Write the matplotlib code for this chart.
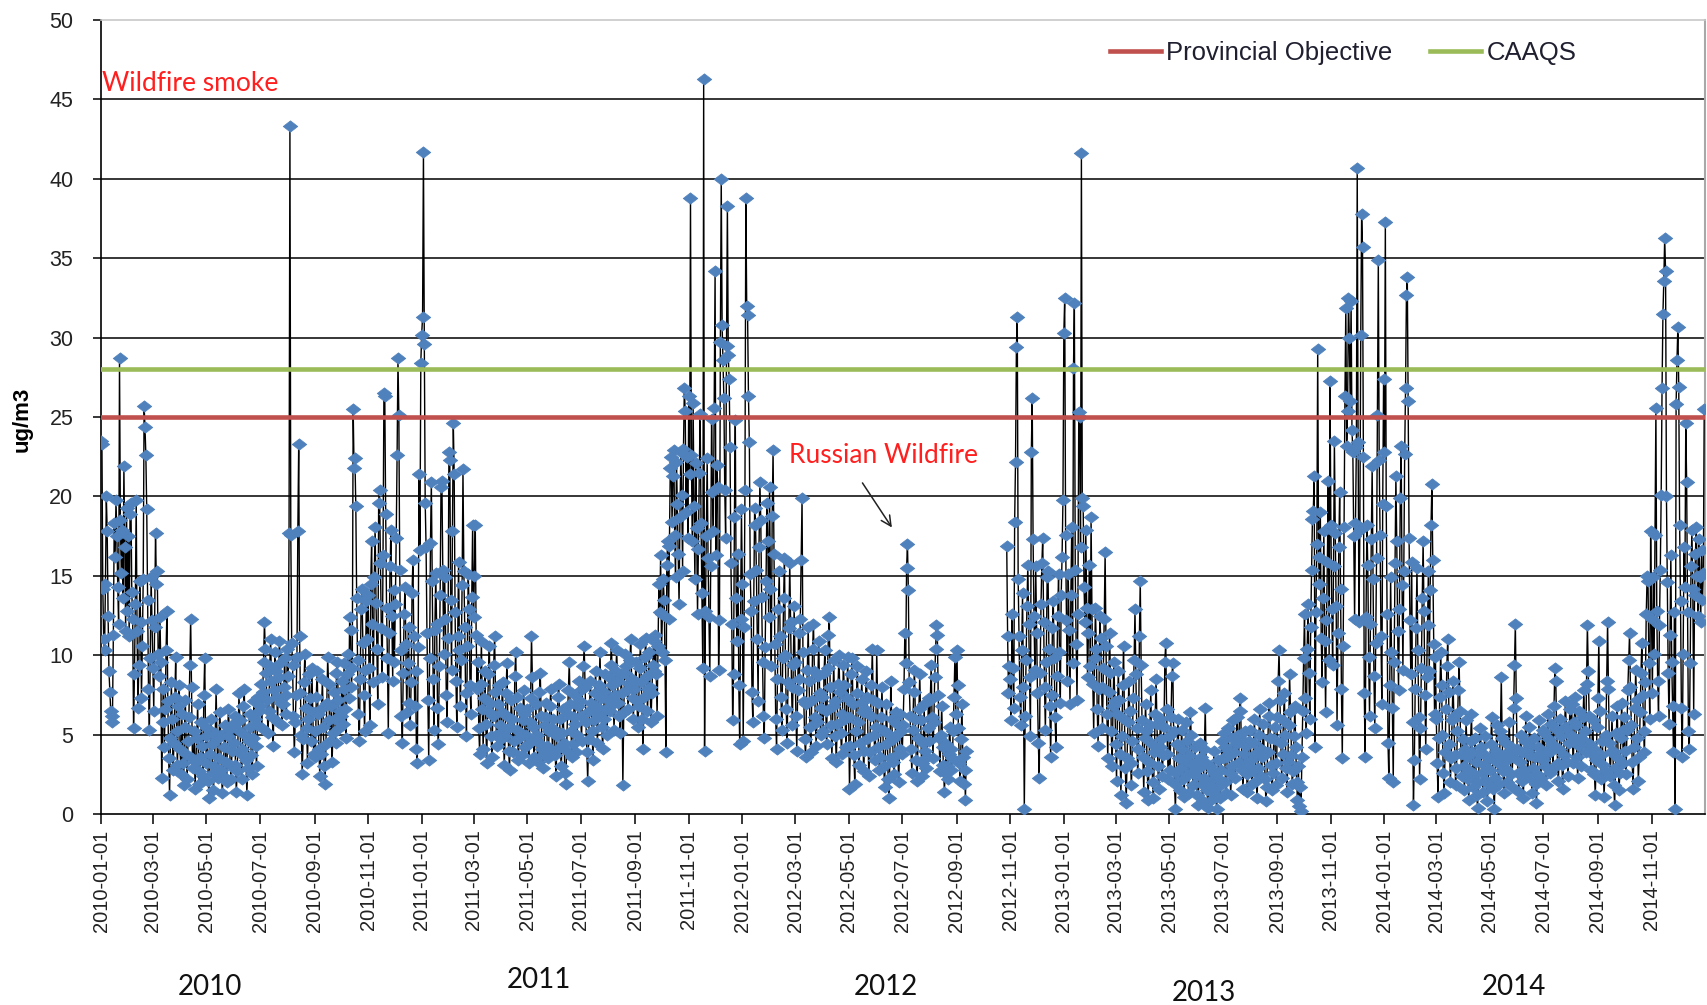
import numpy as np
import pandas as pd
import matplotlib
matplotlib.use("Agg")
import matplotlib.pyplot as plt
import matplotlib.dates as mdates
from matplotlib.path import Path

# ---------------- data (daily PM2.5, ug/m3), one list per month ----------------
pm_2010 = [
    [23.5, 23.3, 14.2, 11.0, 10.3, 14.5, 20.0, 17.8, 12.5, 9.0, 7.7, 6.5, 5.8, 6.2, 11.3, 18.3, 16.2, 19.8, 17.5, 14.3, 12.0, 28.7, 18.5, 15.2, 17.9, 13.6, 21.9, 16.8, 11.5, 19.3, 12.8],
    [17.5, 11.2, 18.9, 19.6, 14.0, 12.3, 5.4, 8.8, 13.2, 19.8, 11.5, 6.7, 9.4, 14.7, 12.1, 7.3, 10.6, 14.8, 25.7, 24.4, 22.6, 19.2, 13.5, 7.9, 5.3, 9.8, 14.9, 12.2],
    [9.2, 6.5, 11.8, 17.7, 14.5, 15.3, 10.1, 8.7, 12.4, 9.6, 2.3, 5.8, 7.9, 4.2, 6.6, 10.3, 12.8, 7.1, 3.5, 1.2, 4.8, 8.3, 6.0, 2.8, 4.5, 7.4, 9.9, 5.2, 3.1, 6.8, 8.1],
    [4.1, 2.5, 6.3, 3.2, 1.8, 5.5, 7.2, 3.8, 2.2, 4.6, 6.1, 9.4, 12.3, 8.0, 3.5, 2.9, 5.2, 1.6, 3.3, 4.8, 6.9, 2.7, 1.9, 3.6, 5.8, 4.3, 2.4, 7.5, 9.8, 4.9],
    [3.2, 5.4, 2.1, 1.0, 3.8, 6.0, 4.4, 2.6, 1.5, 3.0, 5.1, 7.9, 4.7, 2.3, 3.5, 6.4, 5.0, 2.8, 1.3, 2.4, 4.2, 5.6, 3.3, 2.0, 4.9, 6.6, 5.3, 3.1, 2.2, 4.0, 5.7],
    [4.5, 6.2, 3.1, 1.4, 2.7, 5.3, 7.6, 5.9, 3.8, 2.2, 4.1, 6.8, 7.9, 5.0, 3.4, 1.2, 2.9, 4.6, 6.3, 5.5, 3.7, 2.5, 4.8, 7.1, 6.0, 4.3, 3.0, 5.6, 7.4, 6.5],
    [6.8, 8.2, 5.4, 7.7, 9.6, 12.1, 10.4, 8.9, 7.2, 5.1, 6.5, 9.3, 11.0, 8.4, 6.1, 4.3, 7.8, 10.2, 9.0, 7.4, 5.8, 8.6, 10.9, 9.5, 7.0, 5.6, 6.9, 8.0, 9.8, 7.5, 6.3],
    [10.4, 8.7, 17.7, 43.3, 17.6, 10.8, 9.4, 6.2, 3.9, 5.8, 7.5, 9.9, 17.8, 23.3, 11.2, 7.6, 5.0, 2.5, 4.7, 8.3, 10.1, 6.7, 5.4, 3.2, 6.0, 8.8, 7.3, 4.6, 9.2, 6.4, 3.8],
    [5.2, 3.6, 7.4, 9.0, 6.3, 4.1, 2.4, 3.8, 6.7, 8.5, 5.5, 3.0, 1.9, 4.4, 7.0, 9.9, 8.2, 5.9, 4.6, 6.8, 3.3, 5.1, 7.7, 6.0, 4.5, 8.9, 9.6, 7.2, 5.4, 6.5],
    [6.2, 8.4, 5.7, 7.9, 9.5, 6.6, 4.8, 8.8, 10.1, 7.3, 12.4, 11.6, 8.0, 9.2, 25.5, 21.8, 22.4, 19.4, 13.6, 9.7, 6.3, 4.6, 8.5, 12.9, 14.2, 10.8, 7.5, 5.2, 9.1, 13.4, 11.0],
    [13.8, 9.2, 5.6, 14.5, 17.2, 12.0, 8.3, 14.9, 18.1, 13.3, 10.4, 6.9, 19.6, 20.4, 15.8, 11.7, 8.6, 16.3, 26.5, 26.3, 18.9, 13.0, 9.8, 5.1, 11.4, 15.6, 17.9, 12.5, 8.4, 14.1],
    [9.6, 13.2, 17.4, 22.6, 28.7, 25.1, 15.4, 10.3, 6.2, 4.5, 8.9, 12.6, 14.3, 10.7, 6.4, 9.5, 11.8, 7.0, 5.6, 8.3, 13.9, 16.0, 11.2, 6.8, 9.0, 4.1, 3.2, 10.5, 21.4, 16.6, 28.4],
]
pm_2011 = [
    [30.2, 31.3, 41.7, 29.6, 19.6, 16.8, 11.4, 7.2, 3.4, 9.8, 17.1, 20.9, 14.7, 8.5, 5.3, 11.6, 15.2, 12.0, 6.7, 4.4, 9.3, 13.8, 20.6, 21.0, 15.4, 10.1, 14.9, 12.3, 7.5, 5.8, 11.1],
    [22.8, 22.3, 13.5, 9.1, 17.8, 24.6, 21.4, 12.7, 8.4, 5.5, 11.2, 15.9, 10.3, 6.8, 9.7, 14.4, 21.7, 15.3, 11.8, 7.6, 4.9, 10.6, 15.1, 12.9, 8.1, 6.3, 13.7, 18.2],
    [12.4, 15.0, 18.2, 11.3, 7.9, 9.6, 5.4, 3.8, 8.2, 10.9, 6.6, 4.1, 7.3, 9.0, 5.7, 3.2, 6.5, 8.8, 10.6, 7.0, 4.9, 3.6, 6.2, 9.4, 11.2, 7.7, 5.0, 4.3, 6.9, 8.1, 5.6],
    [4.7, 6.4, 8.3, 5.2, 3.1, 4.9, 7.6, 9.5, 6.1, 4.0, 2.8, 5.5, 7.2, 6.0, 3.9, 4.6, 8.7, 10.2, 7.4, 5.3, 3.4, 4.8, 6.7, 5.1, 3.7, 5.9, 7.8, 6.3, 4.2, 5.0],
    [6.6, 4.4, 3.2, 5.8, 7.3, 11.2, 8.6, 5.5, 3.6, 4.7, 6.9, 5.0, 3.3, 4.5, 7.7, 8.9, 6.2, 4.1, 2.9, 3.8, 5.6, 7.0, 6.1, 4.3, 3.5, 5.2, 6.8, 7.9, 5.4, 4.0, 6.0],
    [5.3, 3.7, 2.4, 4.9, 7.4, 8.2, 6.0, 4.2, 3.0, 5.1, 6.6, 4.5, 2.6, 1.9, 4.0, 6.3, 7.8, 9.6, 6.9, 5.2, 3.6, 4.4, 6.1, 7.5, 5.7, 3.9, 5.0, 6.8, 8.4, 7.1],
    [6.2, 4.6, 7.9, 9.3, 10.6, 8.0, 5.8, 3.9, 2.1, 4.7, 6.5, 8.4, 7.0, 5.2, 3.4, 5.9, 7.6, 9.0, 6.8, 4.5, 6.3, 8.1, 10.2, 7.3, 5.5, 4.1, 6.0, 7.7, 8.8, 6.6, 5.0],
    [7.2, 8.6, 6.5, 9.4, 10.8, 8.1, 6.9, 5.3, 7.5, 9.0, 10.3, 8.4, 7.0, 6.2, 5.1, 8.8, 7.6, 1.8, 6.4, 8.9, 10.1, 9.3, 7.8, 6.6, 8.2, 9.7, 11.0, 8.5, 7.3, 6.0, 7.9],
    [8.4, 9.6, 7.1, 5.5, 6.8, 9.2, 10.7, 8.3, 6.0, 4.1, 7.4, 9.9, 11.1, 8.7, 6.5, 7.9, 10.2, 8.0, 5.8, 7.6, 9.4, 10.9, 9.0, 11.3, 8.8, 6.2, 10.6, 14.5, 12.7, 16.3],
    [10.2, 12.6, 14.8, 13.5, 9.7, 3.9, 15.7, 17.2, 12.3, 16.9, 21.8, 22.5, 18.4, 21.3, 22.9, 17.6, 14.9, 22.2, 19.5, 16.4, 13.2, 18.7, 22.8, 20.1, 15.3, 23.0, 26.8, 25.4, 19.0, 22.5, 17.4],
    [26.3, 21.4, 38.8, 22.6, 17.2, 25.9, 19.4, 14.8, 22.1, 18.0, 12.6, 16.7, 21.5, 25.2, 18.3, 13.9, 9.2, 46.3, 4.0, 12.8, 17.5, 22.4, 16.1, 12.4, 8.7, 15.6, 24.9, 20.3, 17.8, 25.6],
    [34.2, 16.3, 22.0, 20.6, 9.1, 12.2, 29.7, 40.0, 30.8, 28.6, 26.2, 20.4, 17.4, 29.5, 38.3, 28.9, 27.4, 23.1, 15.8, 12.0, 5.9, 8.8, 18.7, 24.8, 13.6, 10.9, 16.4, 8.1, 4.4, 12.3, 19.2],
]
pm_2012 = [
    [14.5, 4.6, 11.8, 20.4, 38.8, 32.0, 31.4, 26.3, 23.4, 15.1, 12.8, 7.7, 5.8, 13.4, 19.3, 18.2, 15.4, 11.0, 7.1, 16.8, 20.9, 18.5, 13.7, 9.6, 6.2, 4.8, 10.5, 14.7, 19.6, 17.2, 12.4],
    [20.6, 14.2, 9.3, 18.8, 22.9, 16.4, 10.7, 6.0, 4.1, 8.5, 12.9, 15.3, 11.2, 7.4, 5.3, 9.8, 13.6, 16.1, 10.0, 6.6, 4.5, 8.3, 11.7, 15.8, 12.1, 8.0, 5.6, 9.4, 13.1],
    [9.6, 6.2, 4.0, 7.8, 11.4, 8.5, 12.3, 16.0, 19.9, 10.2, 7.1, 4.7, 3.6, 6.9, 9.1, 11.8, 8.4, 5.5, 3.9, 7.2, 10.4, 12.0, 9.0, 6.1, 4.3, 5.8, 8.7, 10.9, 7.6, 5.0, 6.7],
    [7.4, 5.2, 8.9, 10.3, 6.5, 4.4, 9.2, 11.3, 12.4, 8.0, 5.6, 3.5, 6.8, 9.7, 7.1, 4.9, 3.3, 5.7, 8.2, 10.0, 7.7, 5.1, 3.8, 6.3, 9.4, 8.1, 6.0, 4.2, 7.3, 9.9],
    [6.1, 1.6, 4.3, 8.8, 9.8, 6.9, 3.7, 1.9, 5.2, 7.6, 9.3, 5.8, 3.1, 4.5, 7.0, 8.5, 6.4, 2.7, 4.0, 6.6, 9.0, 7.4, 4.8, 2.4, 3.9, 6.2, 8.1, 10.4, 7.2, 5.0, 3.4],
    [5.5, 10.3, 7.0, 4.2, 2.8, 3.6, 6.1, 8.0, 5.3, 3.0, 1.7, 4.4, 6.9, 5.1, 2.2, 1.0, 3.5, 8.4, 6.0, 4.7, 3.3, 2.5, 4.9, 6.4, 5.7, 3.8, 2.0, 4.1, 6.3, 5.2],
    [3.8, 5.6, 7.9, 11.4, 9.5, 15.5, 17.0, 14.1, 8.3, 6.2, 4.1, 2.6, 5.3, 7.7, 9.1, 6.0, 3.4, 2.1, 4.8, 6.6, 8.8, 5.9, 3.2, 2.4, 4.5, 6.9, 4.0, 2.9, 3.6, 5.4, 7.3],
    [4.6, 7.2, 9.4, 6.1, 3.5, 5.8, 8.6, 10.4, 11.9, 11.3, 7.5, 4.8, 2.7, 5.0, 6.8, 4.2, 3.1, 1.4, 2.6, 4.4, 3.0, 2.2, 3.8, 5.5, 4.1, 2.8, 3.5, 5.2, 7.4, 9.9, 6.3],
    [10.3, 8.1, 5.4, 3.2, 2.1, 4.7, 6.9, 3.6, 1.9, 2.8, 0.9, 4.0] + [None] * 18,
    [None] * 27 + [16.9, 11.2, 7.6, 9.3],
    [8.5, 5.9, 12.6, 9.2, 6.7, 18.4, 22.2, 29.4, 31.3, 14.8, 11.2, 7.4, 5.6, 10.3, 13.9, 8.0, 0.3, 6.2, 9.7, 13.1, 15.7, 12.0, 8.6, 4.9, 22.8, 26.2, 17.3, 12.5, 9.1, 15.6],
    [11.4, 7.6, 4.5, 2.3, 8.9, 13.2, 15.8, 17.4, 12.1, 8.0, 5.3, 9.6, 14.9, 15.3, 10.4, 6.8, 3.6, 7.5, 11.7, 13.4, 9.8, 6.1, 4.2, 8.7, 12.5, 15.1, 10.2, 7.0, 13.8, 16.2, 19.8],
]
pm_2013 = [
    [30.3, 32.5, 17.6, 12.2, 8.4, 15.1, 11.6, 6.9, 13.8, 18.1, 9.5, 28.1, 32.2, 15.4, 10.7, 7.2, 12.6, 25.3, 25.0, 16.8, 41.6, 19.9, 19.4, 14.3, 12.1, 17.9, 13.0, 8.6, 11.4, 15.7, 9.3],
    [18.7, 12.9, 8.2, 5.1, 9.8, 13.0, 10.4, 6.6, 4.3, 7.9, 12.5, 11.1, 8.0, 5.4, 9.2, 12.3, 16.5, 10.6, 6.3, 3.5, 7.7, 11.4, 8.9, 5.2, 3.0, 6.8, 9.6, 7.1],
    [4.4, 2.1, 6.3, 9.0, 7.2, 3.8, 1.2, 4.9, 8.1, 10.6, 6.0, 2.9, 0.7, 3.5, 5.8, 8.4, 6.5, 3.2, 1.8, 4.6, 7.3, 9.7, 12.9, 8.8, 5.4, 2.6, 4.1, 11.2, 14.7, 9.4, 5.9],
    [3.6, 1.4, 4.8, 6.9, 5.2, 2.7, 0.9, 3.3, 5.6, 7.8, 4.4, 2.0, 1.0, 3.9, 6.3, 8.5, 5.7, 3.0, 1.6, 4.2, 6.0, 4.7, 2.4, 3.7, 5.5, 9.6, 10.8, 6.6, 3.8, 2.2],
    [4.9, 2.8, 6.1, 8.7, 9.5, 5.2, 1.9, 0.3, 2.6, 4.4, 6.0, 3.5, 1.5, 2.9, 5.3, 4.1, 2.2, 1.1, 3.4, 5.8, 4.6, 2.5, 1.3, 3.7, 6.4, 5.0, 3.1, 1.8, 2.7, 4.2, 3.3],
    [2.4, 1.2, 0.6, 2.9, 4.5, 3.6, 1.9, 0.8, 2.3, 4.1, 6.7, 3.2, 1.5, 0.4, 1.8, 3.0, 2.1, 0.9, 1.4, 2.7, 4.0, 2.5, 1.1, 0.3, 1.7, 3.4, 2.2, 1.0, 2.8, 4.6],
    [3.5, 5.1, 4.2, 2.0, 1.3, 3.6, 5.4, 4.0, 2.6, 1.2, 3.0, 4.8, 5.9, 3.9, 2.3, 4.4, 6.1, 5.0, 3.3, 6.5, 7.3, 4.7, 2.8, 1.6, 3.8, 5.2, 4.3, 2.5, 1.4, 3.1, 4.6],
    [5.3, 3.4, 1.9, 2.7, 4.5, 6.0, 3.8, 2.1, 1.0, 2.9, 5.0, 6.6, 4.1, 2.4, 3.6, 5.7, 4.0, 2.2, 0.8, 1.7, 3.9, 6.2, 7.0, 4.8, 3.1, 1.5, 2.6, 4.7, 5.5, 3.2, 1.8],
    [6.1, 8.4, 10.3, 7.2, 4.5, 2.3, 3.8, 5.9, 7.6, 5.0, 2.9, 1.4, 3.3, 5.6, 8.8, 6.4, 3.7, 1.9, 2.7, 4.9, 6.8, 4.2, 2.0, 0.9, 3.0, 0.5, 1.7, 0.2, 3.6, 6.5],
    [9.8, 12.6, 7.3, 5.1, 10.4, 13.2, 8.9, 6.0, 11.8, 15.4, 18.6, 19.1, 21.3, 4.2, 12.7, 17.0, 29.3, 16.2, 14.5, 19.0, 11.1, 8.3, 13.6, 17.8, 10.9, 6.4, 12.2, 15.9, 21.0, 9.7, 27.3],
    [18.2, 12.9, 9.4, 15.6, 23.5, 17.7, 13.1, 5.6, 11.4, 16.8, 20.3, 14.2, 7.9, 3.5, 10.6, 18.1, 26.3, 31.9, 23.2, 25.4, 32.5, 30.0, 26.0, 32.3, 24.2, 22.8, 17.5, 12.3, 18.3, 23.1],
    [40.7, 23.4, 12.1, 17.9, 30.2, 37.8, 35.7, 22.5, 7.6, 3.6, 12.4, 18.2, 15.7, 9.9, 6.2, 12.0, 17.3, 21.9, 14.8, 8.7, 5.4, 10.8, 16.1, 25.1, 34.9, 22.3, 17.6, 11.2, 6.9, 19.5, 27.4],
]
pm_2014 = [
    [22.8, 37.3, 19.4, 12.6, 4.5, 2.3, 8.1, 14.9, 10.2, 6.7, 2.0, 9.6, 15.8, 21.3, 17.2, 11.5, 7.8, 12.9, 19.9, 23.2, 14.4, 9.1, 15.3, 22.7, 26.8, 32.7, 33.8, 26.0, 17.4, 12.2, 8.8],
    [15.9, 5.8, 0.6, 3.4, 7.9, 11.7, 15.5, 10.3, 6.1, 2.2, 5.4, 9.2, 13.6, 17.2, 12.8, 7.5, 4.1, 8.6, 11.9, 15.3, 9.0, 14.1, 18.2, 20.8, 16.0, 10.7, 6.3, 9.9],
    [6.0, 3.2, 1.1, 4.8, 7.4, 10.2, 8.1, 5.0, 2.6, 1.3, 3.9, 6.6, 9.3, 11.0, 7.7, 4.4, 2.0, 3.5, 5.9, 8.4, 6.2, 3.7, 1.8, 2.9, 5.2, 7.8, 9.6, 6.5, 3.8, 2.4, 4.7],
    [3.0, 1.5, 4.1, 5.9, 3.6, 2.2, 0.9, 2.7, 4.6, 6.3, 3.9, 1.7, 2.5, 4.8, 3.3, 1.2, 0.4, 2.0, 3.8, 5.4, 4.2, 2.6, 1.4, 3.1, 4.9, 3.7, 2.1, 0.8, 1.9, 3.5],
    [2.8, 4.4, 6.1, 3.5, 1.6, 0.3, 2.3, 4.0, 5.6, 3.2, 1.9, 3.7, 5.2, 8.6, 4.8, 2.7, 1.3, 2.9, 4.5, 3.4, 2.0, 3.9, 5.8, 4.3, 2.5, 1.7, 3.6, 6.7, 9.4, 12.0, 7.3],
    [4.1, 2.6, 1.4, 3.3, 5.0, 3.9, 2.1, 1.0, 2.8, 4.6, 6.2, 4.0, 2.4, 3.7, 5.5, 4.3, 2.2, 1.3, 2.9, 4.8, 3.6, 1.9, 0.7, 2.5, 4.2, 5.9, 3.8, 2.3, 3.5, 5.3],
    [3.4, 5.1, 3.0, 1.8, 4.0, 6.3, 4.7, 2.6, 3.9, 5.7, 4.4, 2.9, 6.8, 9.2, 8.4, 5.3, 3.2, 2.1, 4.1, 6.0, 4.9, 3.1, 1.6, 3.7, 5.5, 7.1, 5.4, 3.3, 2.4, 4.5, 6.6],
    [5.0, 6.9, 4.6, 3.2, 5.8, 7.4, 5.6, 3.6, 2.3, 4.3, 6.5, 4.8, 3.0, 4.7, 6.1, 7.8, 5.2, 3.9, 8.2, 11.9, 9.0, 6.2, 4.4, 2.8, 3.8, 5.9, 4.1, 2.5, 1.2, 3.4, 5.5],
    [7.3, 10.9, 6.5, 3.7, 2.2, 4.6, 3.1, 1.1, 2.7, 5.0, 8.4, 12.1, 7.9, 4.5, 2.4, 3.9, 6.2, 4.0, 1.8, 0.6, 2.9, 5.1, 6.8, 3.5, 1.5, 2.6, 4.8, 7.0, 5.3, 3.2],
    [6.1, 4.0, 2.5, 5.3, 7.8, 9.7, 11.4, 8.0, 5.6, 3.3, 1.6, 4.2, 6.7, 9.1, 7.2, 4.8, 2.1, 3.6, 6.4, 8.9, 10.8, 7.5, 5.2, 3.9, 8.3, 12.6, 15.0, 14.7, 9.5, 6.0, 17.8],
    [12.3, 7.6, 14.9, 10.1, 17.6, 25.6, 12.8, 8.4, 6.2, 11.9, 15.4, 20.1, 26.8, 31.5, 33.6, 36.3, 34.2, 20.0, 14.6, 8.9, 5.7, 11.3, 16.3, 9.6, 6.8, 3.9, 12.7, 0.3, 25.8, 28.6],
    [30.7, 26.9, 18.2, 13.4, 6.7, 3.6, 10.1, 16.8, 14.3, 24.6, 20.9, 12.7, 5.2, 4.1, 9.5, 15.6, 17.9, 14.2, 6.3, 13.8, 16.4, 18.1, 15.0, 12.5, 17.3, 14.9, 12.1, 16.6, 13.5, 15.2, 25.5],
]
years = [2010, 2011, 2012, 2013, 2014]
provincial_objective = 25
caaqs = 28
y_ticks = [0, 5, 10, 15, 20, 25, 30, 35, 40, 45, 50]
year_labels = ["2010", "2011", "2012", "2013", "2014"]

# ---------------- build the daily series ----------------
dates, vals = [], []
for yr, months in zip(years, [pm_2010, pm_2011, pm_2012, pm_2013, pm_2014]):
    for m, mv in enumerate(months, start=1):
        start = pd.Timestamp(yr, m, 1)
        for i, v in enumerate(mv[:start.days_in_month]):
            dates.append(start + pd.Timedelta(days=i))
            vals.append(np.nan if v is None else v)
dates = pd.to_datetime(dates)
vals = np.array(vals, dtype=float)

# ---------------- figure ----------------
arial = ["Liberation Sans", "DejaVu Sans"]
calib = ["Lato", "DejaVu Sans"]

fig = plt.figure(figsize=(17.07, 10.05), dpi=100)
ax = fig.add_axes([0.0592, 0.190, 0.9396, 0.790])

diamond = Path([(-1, 0), (0, 0.78), (1, 0), (0, -0.78), (-1, 0)],
               [Path.MOVETO, Path.LINETO, Path.LINETO, Path.LINETO, Path.CLOSEPOLY])

ax.plot(dates, vals, color="black", lw=1.0, marker=diamond, ms=10.5,
        mfc="#4F81BD", mec="#4F81BD", mew=0.5, zorder=3)

ax.axhline(provincial_objective, color="#C0504D", lw=3.3, zorder=4,
           label="Provincial Objective")
ax.axhline(caaqs, color="#9BBB59", lw=3.3, zorder=4, label="CAAQS")

# horizontal gridlines
for t in y_ticks[1:-1]:
    ax.axhline(t, color="black", lw=1.1, zorder=1)

ax.set_ylim(0, 50)
ax.set_xlim(pd.Timestamp("2010-01-01"), pd.Timestamp("2014-12-31 20:00"))
ax.set_yticks(y_ticks)
ax.set_yticklabels([str(t) for t in y_ticks], fontfamily=arial, fontsize=15.5, color="#222222")

ax.xaxis.set_major_locator(mdates.MonthLocator(bymonth=[1, 3, 5, 7, 9, 11]))
ax.xaxis.set_major_formatter(mdates.DateFormatter("%Y-%m-%d"))
ax.tick_params(axis="x", direction="out", length=7, width=1.1, pad=4,
               labelrotation=90, labelsize=14.5, labelcolor="#222222")
ax.tick_params(axis="y", direction="out", length=6, width=1.1, pad=14)
for lab in ax.get_xticklabels():
    lab.set_fontfamily(arial)

for s in ["left", "bottom"]:
    ax.spines[s].set_color("black")
    ax.spines[s].set_linewidth(1.2)
ax.spines["top"].set_color("#C8C8C8")
ax.spines["right"].set_color("#A8A8A8")
ax.spines["top"].set_linewidth(1.2)
ax.spines["right"].set_linewidth(1.5)

# legend
leg = ax.legend(loc="center left", bbox_to_anchor=(0.629, 0.958), ncol=2,
                frameon=False, handlelength=2.0, handletextpad=0.2,
                columnspacing=1.45, borderpad=0, borderaxespad=0,
                prop={"family": arial, "size": 18.5})
for t in leg.get_texts():
    t.set_color("#1F1F2F")

# annotations
ax.text(pd.Timestamp("2010-01-02"), 46.0, "Wildfire smoke", color="#FF1F1F",
        fontsize=19, fontfamily=calib, ha="left", va="center", zorder=6)
ax.text(pd.Timestamp("2012-02-23"), 22.6, "Russian Wildfire", color="#FF1F1F",
        fontsize=19, fontfamily=calib, ha="left", va="center", zorder=6)
ax.annotate("", xy=(pd.Timestamp("2012-06-21"), 17.9),
            xytext=(pd.Timestamp("2012-05-15"), 21.0),
            arrowprops=dict(arrowstyle="->", color="#222222", lw=1.1,
                            mutation_scale=18), zorder=6)

# y label
fig.text(0.013, 0.583, "ug/m3", rotation=90, fontsize=16, fontweight="bold",
         fontfamily=arial, ha="center", va="center")

# year labels under the date axis
year_pos = [(0.123, 0.018), (0.316, 0.025), (0.519, 0.018), (0.705, 0.012), (0.887, 0.018)]
for lbl, (xf, yf) in zip(year_labels, year_pos):
    fig.text(xf, yf, lbl, fontsize=20, fontfamily=calib, ha="center", va="center",
             color="#111111")

fig.savefig("out.png", dpi=100)
